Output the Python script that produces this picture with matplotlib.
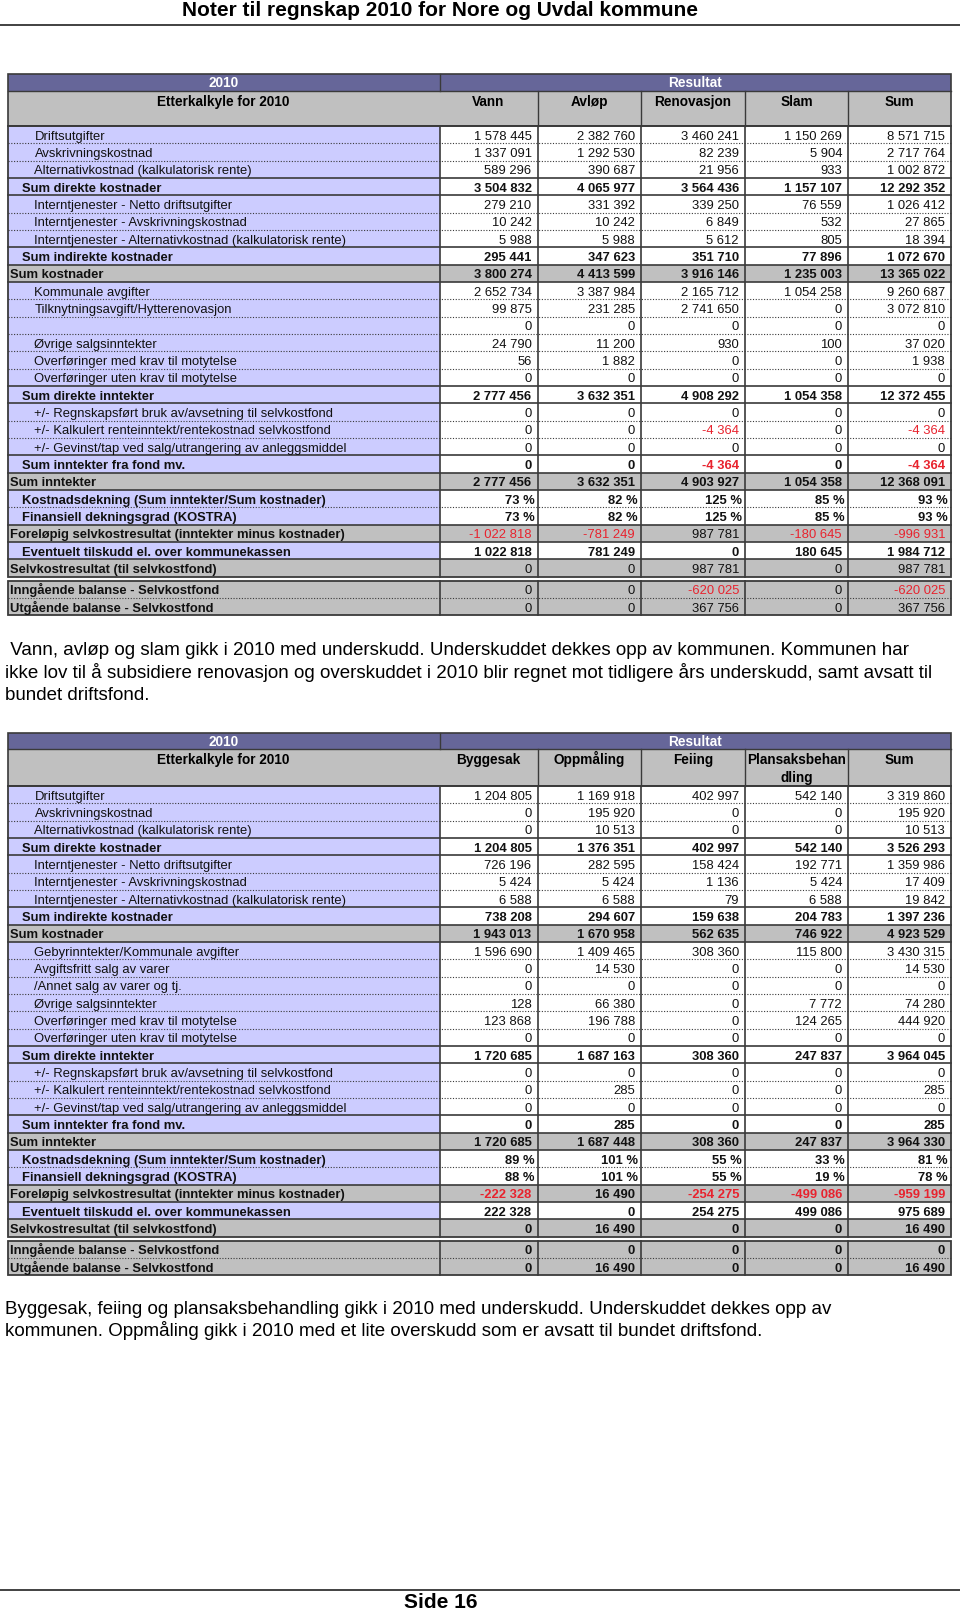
import matplotlib
matplotlib.use('Agg')
import matplotlib.pyplot as plt
from matplotlib.patches import Rectangle

plt.rcParams['font.family'] = ['Liberation Sans', 'DejaVu Sans']

# ---- data ----
title = 'Noter til regnskap 2010 for Nore og Uvdal kommune'
footer = 'Side 16'

labels_1 = ['Driftsutgifter', 'Avskrivningskostnad', 'Alternativkostnad (kalkulatorisk rente)',
            'Sum direkte kostnader', 'Interntjenester - Netto driftsutgifter',
            'Interntjenester - Avskrivningskostnad',
            'Interntjenester - Alternativkostnad (kalkulatorisk rente)', 'Sum indirekte kostnader',
            'Sum kostnader', 'Kommunale avgifter', 'Tilknytningsavgift/Hytterenovasjon', '',
            'Øvrige salgsinntekter', 'Overføringer med krav til motytelse',
            'Overføringer uten krav til motytelse', 'Sum direkte inntekter',
            '+/- Regnskapsført bruk av/avsetning til selvkostfond',
            '+/- Kalkulert renteinntekt/rentekostnad selvkostfond',
            '+/- Gevinst/tap ved salg/utrangering av anleggsmiddel', 'Sum inntekter fra fond mv.',
            'Sum inntekter', 'Kostnadsdekning (Sum inntekter/Sum kostnader)',
            'Finansiell dekningsgrad (KOSTRA)',
            'Foreløpig selvkostresultat (inntekter minus kostnader)',
            'Eventuelt tilskudd el. over kommunekassen', 'Selvkostresultat (til selvkostfond)',
            'Inngående balanse - Selvkostfond', 'Utgående balanse - Selvkostfond']
labels_2 = list(labels_1)
labels_2[9] = 'Gebyrinntekter/Kommunale avgifter'
labels_2[10] = 'Avgiftsfritt salg av varer'
labels_2[11] = '/Annet salg av varer og tj.'

heads_1 = ['Vann', 'Avløp', 'Renovasjon', 'Slam', 'Sum']
heads_2 = ['Byggesak', 'Oppmåling', 'Feiing', 'Plansaksbehan\ndling', 'Sum']

# rows 21 and 22 (0-based) are percentages
t1_vann = [1578445, 1337091, 589296, 3504832, 279210, 10242, 5988, 295441, 3800274, 2652734,
           99875, 0, 24790, 56, 0, 2777456, 0, 0, 0, 0, 2777456, 73, 73, -1022818, 1022818, 0, 0, 0]
t1_avlop = [2382760, 1292530, 390687, 4065977, 331392, 10242, 5988, 347623, 4413599, 3387984,
            231285, 0, 11200, 1882, 0, 3632351, 0, 0, 0, 0, 3632351, 82, 82, -781249, 781249, 0, 0, 0]
t1_renovasjon = [3460241, 82239, 21956, 3564436, 339250, 6849, 5612, 351710, 3916146, 2165712,
                 2741650, 0, 930, 0, 0, 4908292, 0, -4364, 0, -4364, 4903927, 125, 125, 987781, 0,
                 987781, -620025, 367756]
t1_slam = [1150269, 5904, 933, 1157107, 76559, 532, 805, 77896, 1235003, 1054258,
           0, 0, 100, 0, 0, 1054358, 0, 0, 0, 0, 1054358, 85, 85, -180645, 180645, 0, 0, 0]
t1_sum = [8571715, 2717764, 1002872, 12292352, 1026412, 27865, 18394, 1072670, 13365022, 9260687,
          3072810, 0, 37020, 1938, 0, 12372455, 0, -4364, 0, -4364, 12368091, 93, 93, -996931,
          1984712, 987781, -620025, 367756]

t2_byggesak = [1204805, 0, 0, 1204805, 726196, 5424, 6588, 738208, 1943013, 1596690, 0, 0, 128,
               123868, 0, 1720685, 0, 0, 0, 0, 1720685, 89, 88, -222328, 222328, 0, 0, 0]
t2_oppmaling = [1169918, 195920, 10513, 1376351, 282595, 5424, 6588, 294607, 1670958, 1409465,
                14530, 0, 66380, 196788, 0, 1687163, 0, 285, 0, 285, 1687448, 101, 101, 16490, 0,
                16490, 0, 16490]
t2_feiing = [402997, 0, 0, 402997, 158424, 1136, 79, 159638, 562635, 308360, 0, 0, 0, 0, 0,
             308360, 0, 0, 0, 0, 308360, 55, 55, -254275, 254275, 0, 0, 0]
t2_plansak = [542140, 0, 0, 542140, 192771, 5424, 6588, 204783, 746922, 115800, 0, 0, 7772,
              124265, 0, 247837, 0, 0, 0, 0, 247837, 33, 19, -499086, 499086, 0, 0, 0]
t2_sum = [3319860, 195920, 10513, 3526293, 1359986, 17409, 19842, 1397236, 4923529, 3430315,
          14530, 0, 74280, 444920, 0, 3964045, 0, 285, 0, 285, 3964330, 81, 78, -959199, 975689,
          16490, 0, 16490]

text_1 = [' Vann, avløp og slam gikk i 2010 med underskudd. Underskuddet dekkes opp av kommunen. Kommunen har',
          'ikke lov til å subsidiere renovasjon og overskuddet i 2010 blir regnet mot tidligere års underskudd, samt avsatt til',
          'bundet driftsfond.']
text_2 = ['Byggesak, feiing og plansaksbehandling gikk i 2010 med underskudd. Underskuddet dekkes opp av',
          'kommunen. Oppmåling gikk i 2010 med et lite overskudd som er avsatt til bundet driftsfond.']

# row style: n = normal, b = bold sub-sum, g = grey total row
styles = ['n', 'n', 'n', 'b', 'n', 'n', 'n', 'b', 'g', 'n', 'n', 'n', 'n', 'n', 'n', 'b',
          'n', 'n', 'n', 'b', 'g', 'b', 'b', 'g', 'b', 'g', 'g', 'g']
pct_rows = [21, 22]
# grey rows whose numbers are not bold in the first table
t1_plain_rows = [23, 25, 26, 27]

PURPLE = '#666699'
LAVENDER = '#ccccff'
GREY = '#c0c0c0'
LINE = '#3a3a3a'
RED = '#e8232e'
col_x = [7.5, 439.5, 537.5, 641, 745, 848, 951]
RH = 17.33
FS = 9.4
HFS = 9.8


def fmt(v, pct):
    if pct:
        return '%d %%' % v
    s = '{:,}'.format(abs(v)).replace(',', ' ')
    return '-' + s if v < 0 else s


def draw_table(ax, top, h1, h2, labels, heads, cols, plain_rows):
    x0, x1, xr = col_x[0], col_x[1], col_x[-1]
    hb = 4.9   # half cap height of header font, px
    rb = 4.7   # same for body font
    # header rows
    ax.add_patch(Rectangle((x0, top), xr - x0, h1, fc=PURPLE, ec='none'))
    ax.add_patch(Rectangle((x0, top + h1), xr - x0, h2, fc=GREY, ec='none'))
    ax.text((x0 + x1) / 2, top + h1 / 2 + hb, '2010', color='white', fontsize=HFS,
            fontweight='bold', ha='center', va='baseline')
    ax.text((x1 + xr) / 2, top + h1 / 2 + hb, 'Resultat', color='white', fontsize=HFS,
            fontweight='bold', ha='center', va='baseline')
    ax.text((x0 + x1) / 2, top + h1 + 10.5 + hb, 'Etterkalkyle for 2010', fontsize=HFS,
            fontweight='bold', ha='center', va='baseline')
    for j, h in enumerate(heads):
        for k, part in enumerate(h.split('\n')):
            ax.text((col_x[j + 1] + col_x[j + 2]) / 2, top + h1 + 10.5 + hb + k * 17.5, part,
                    fontsize=HFS, fontweight='bold', ha='center', va='baseline')
    ax.plot([x0, xr], [top + h1, top + h1], color=LINE, lw=1.0)
    ax.plot([x0, xr], [top + h1 + h2, top + h1 + h2], color=LINE, lw=1.2)
    ax.plot([x1, x1], [top, top + h1], color=LINE, lw=1.0)
    for x in col_x[2:-1]:
        ax.plot([x, x], [top + h1, top + h1 + h2], color=LINE, lw=1.0)
    ax.add_patch(Rectangle((x0, top), xr - x0, h1 + h2, fc='none', ec=LINE, lw=1.2))

    start = top + h1 + h2
    ys = []
    for i in range(len(labels)):
        y = start + i * RH + (4 if i >= 26 else 0)
        ys.append(y)
        st = styles[i]
        lab_bg = GREY if st == 'g' else LAVENDER
        val_bg = GREY if st == 'g' else 'white'
        ax.add_patch(Rectangle((x0, y), x1 - x0, RH, fc=lab_bg, ec='none'))
        ax.add_patch(Rectangle((x1, y), xr - x1, RH, fc=val_bg, ec='none'))
        indent = {'n': 27, 'b': 15, 'g': 3}[st]
        bold = st != 'n'
        base = y + RH / 2 + 0.3 + rb
        ax.text(x0 + indent, base, labels[i], fontsize=FS,
                fontweight='bold' if bold else 'normal', ha='left', va='baseline',
                color='#111111')
        vbold = bold and i not in plain_rows
        pct = i in pct_rows
        for j, col in enumerate(cols):
            v = col[i]
            ax.text(col_x[j + 2] - (3 if pct else 6), base, fmt(v, pct), fontsize=FS,
                    fontweight='bold' if vbold else 'normal', ha='right', va='baseline',
                    color=RED if v < 0 else '#111111')

    # horizontal rules between rows
    for i in range(len(labels) - 1):
        if i == 25:
            continue
        y = ys[i + 1]
        if styles[i] == styles[i + 1]:
            ax.plot([x0, xr], [y, y], color=LINE, lw=0.8, ls=(0, (1, 1.5)))
        else:
            ax.plot([x0, xr], [y, y], color=LINE, lw=1.2)
    # block outlines and column lines
    blocks = [(ys[0], ys[25] + RH), (ys[26], ys[27] + RH)]
    for b0, b1 in blocks:
        for x in col_x[1:-1]:
            ax.plot([x, x], [b0, b1], color=LINE, lw=1.2)
        ax.add_patch(Rectangle((x0, b0), xr - x0, b1 - b0, fc='none', ec=LINE, lw=1.3))


fig = plt.figure(figsize=(9.6, 16.12), dpi=100)
ax = fig.add_axes([0, 0, 1, 1])
ax.set_xlim(0, 960)
ax.set_ylim(1612, 0)
ax.axis('off')

ax.text(440, 11, title, fontsize=15, fontweight='bold', ha='center', va='center')
ax.plot([0, 960], [25, 25], color='#333333', lw=1.3)

draw_table(ax, 74, 16.5, 35.5, labels_1, heads_1,
           [t1_vann, t1_avlop, t1_renovasjon, t1_slam, t1_sum], t1_plain_rows)
draw_table(ax, 733, 16, 37, labels_2, heads_2,
           [t2_byggesak, t2_oppmaling, t2_feiing, t2_plansak, t2_sum], [])

for k, line in enumerate(text_1):
    ax.text(5, 650.5 + k * 22.3, line, fontsize=13.5, ha='left', va='center')
for k, line in enumerate(text_2):
    ax.text(5, 1309.5 + k * 21.5, line, fontsize=13.5, ha='left', va='center')

ax.plot([0, 960], [1590, 1590], color='#333333', lw=1.3)
ax.text(441, 1603, footer, fontsize=15, fontweight='bold', ha='center', va='center')

fig.savefig('out.png', dpi=100)
